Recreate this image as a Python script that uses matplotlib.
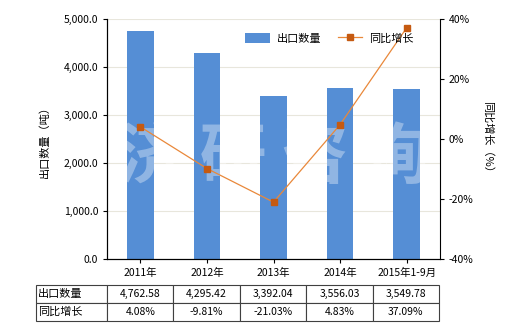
import matplotlib.pyplot as plt
from matplotlib.ticker import FuncFormatter

plt.rcParams['font.family'] = ['Noto Sans CJK SC', 'DejaVu Sans']

years = ['2011年', '2012年', '2013年', '2014年', '2015年1-9月']
export_qty = [4762.58, 4295.42, 3392.04, 3556.03, 3549.78]
yoy_growth = [4.08, -9.81, -21.03, 4.83, 37.09]
qty_labels = ['4,762.58', '4,295.42', '3,392.04', '3,556.03', '3,549.78']
growth_labels = ['4.08%', '-9.81%', '-21.03%', '4.83%', '37.09%']

bar_color = '#558ED5'
line_color = '#E9883A'
marker_color = '#C55A11'

fig = plt.figure(figsize=(5.2, 3.3), dpi=100)
ax = fig.add_axes([0.206, 0.215, 0.640, 0.727])
x = list(range(len(years)))

ax.bar(x, export_qty, width=0.4, color=bar_color, label='出口数量', zorder=2)
ax.set_xlim(-0.5, 4.5)
ax.set_ylim(0, 5000)
ax.set_yticks([0, 1000, 2000, 3000, 4000, 5000])
ax.yaxis.set_major_formatter(FuncFormatter(lambda v, p: f'{v:,.1f}'))
ax.set_xticks(x)
ax.set_xticklabels(years)
ax.grid(axis='y', color='#E8E6DC', linewidth=0.8, zorder=0)
ax.tick_params(labelsize=7.5, length=3, width=0.8)
ax.spines['top'].set_visible(False)
ax.spines['right'].set_visible(False)
ax.set_ylabel('出口数量（吨）', fontsize=8, labelpad=10)

ax2 = ax.twinx()
ax2.plot(x, yoy_growth, color=line_color, linewidth=0.9, marker='s', markersize=4,
         markerfacecolor=marker_color, markeredgecolor=marker_color, label='同比增长', zorder=3)
ax2.set_ylim(-40, 40)
ax2.set_yticks([-40, -20, 0, 20, 40])
ax2.yaxis.set_major_formatter(FuncFormatter(lambda v, p: f'{v:.0f}%'))
ax2.tick_params(labelsize=7.5, length=3, width=0.8)
ax2.spines['top'].set_visible(False)
ax2.set_ylabel('同比增长（%）', fontsize=8, rotation=270, labelpad=14)

# watermark
ax.text(0.5, 0.42, '济 研 咨 询', transform=ax.transAxes, fontsize=48, color='white',
        alpha=0.35, ha='center', va='center', fontweight='bold', zorder=4)

h1, l1 = ax.get_legend_handles_labels()
h2, l2 = ax2.get_legend_handles_labels()
ax2.legend(h1 + h2, l1 + l2, loc='upper right', bbox_to_anchor=(0.95, 0.985), ncol=2,
           frameon=False, fontsize=8, handlelength=2.2, handleheight=1.1,
           columnspacing=1.5, handletextpad=0.6)

# data table below
cells = [['出口数量'] + qty_labels, ['同比增长'] + growth_labels]
tbl = ax.table(cellText=cells, bbox=[-0.213, -0.258, 1.21, 0.15],
               colWidths=[71] + [66.5] * 5, cellLoc='center')
tbl.auto_set_font_size(False)
tbl.set_fontsize(7.5)
for (r, c), cell in tbl.get_celld().items():
    cell.set_edgecolor('#404040')
    cell.set_linewidth(0.8)
    if c == 0:
        cell.set_text_props(ha='left', fontsize=8)
        cell.PAD = 0.03

fig.savefig('out.png', dpi=100)
